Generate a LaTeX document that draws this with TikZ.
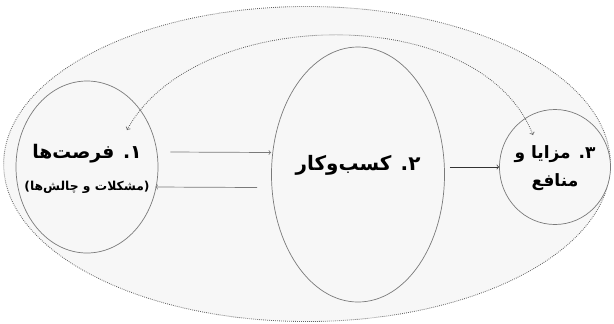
\documentclass[tikz,border=0pt]{standalone}
\usepackage{fontspec}
\usetikzlibrary{shapes.geometric, calc}
\newfontfamily\fafont[Script=Arabic]{DejaVu Sans}
\TeXXeTstate=1
\definecolor{paper}{HTML}{F7F7F7}
\definecolor{rim}{HTML}{7A7A7A}

\begin{document}
\begin{tikzpicture}
		[x=0.03cm, y=-0.03cm,
		 zone/.style = {draw=rim, line width=0.6pt, fill=paper, ellipse, inner sep=0pt},
		 caption/.style = {align=center, inner sep=0pt, font=\fafont\bfseries},
		 flow/.style = {->, draw=rim, line width=0.6pt},
		 loop/.style = {<->, draw=rim!80!black, line width=0.7pt, densely dotted}]
		\useasboundingbox (0,0) rectangle (614,323);
		\node[zone, draw=rim!80!black, line width=0.7pt, densely dotted, minimum width=18.2cm, minimum height=9.45cm] (field) at (307,164) {};
		\node[zone, minimum width=4.26cm, minimum height=5.16cm] (opp) at (87,167) {};
		\node[zone, minimum width=5.19cm, minimum height=7.65cm] (biz) at (358,174.5) {};
		\node[zone, minimum width=3.33cm, minimum height=3.45cm] (gain) at (555,167) {};

		\node[caption] (opptext) at ($(opp.center)+(0,2)$)
			{\fontsize{16}{20}\selectfont\beginR ۱. فرصت‌ها\endR\\[15pt]
			 \fontsize{10.5}{12}\selectfont\beginR (مشکلات و چالش‌ها)\endR};
		\node[caption] (biztext) at ($(biz.center)+(0,-9)$)
			{\fontsize{17}{22}\selectfont\beginR ۲. کسب‌وکار\endR};
		\node[caption] (gaintext) at ($(gain.center)+(0,1)$)
			{\fontsize{14.5}{18}\selectfont\beginR ۳. مزایا و\endR\\[9pt]
			 \fontsize{14.5}{18}\selectfont\beginR منافع\endR};

		\coordinate (oppin) at ($(opp.center)+(40,-37)$);
		\coordinate (gainin) at ($(gain.center)+(-22,-32)$);

		\draw[flow] ($(opp.east)+(12,-15)$) -- ($(biz.west)+(0,-22)$);
		\draw[flow] ($(biz.west)+(-14,13)$) -- ($(opp.east)+(-3,20)$);
		\draw[flow, draw=black!80] ($(biz.east |- gain.west)+(5,0)$) -- (gain.west);
		\draw[loop] (oppin) .. controls (195,5) and (480,0) .. (gainin);
	\end{tikzpicture}
\end{document}
